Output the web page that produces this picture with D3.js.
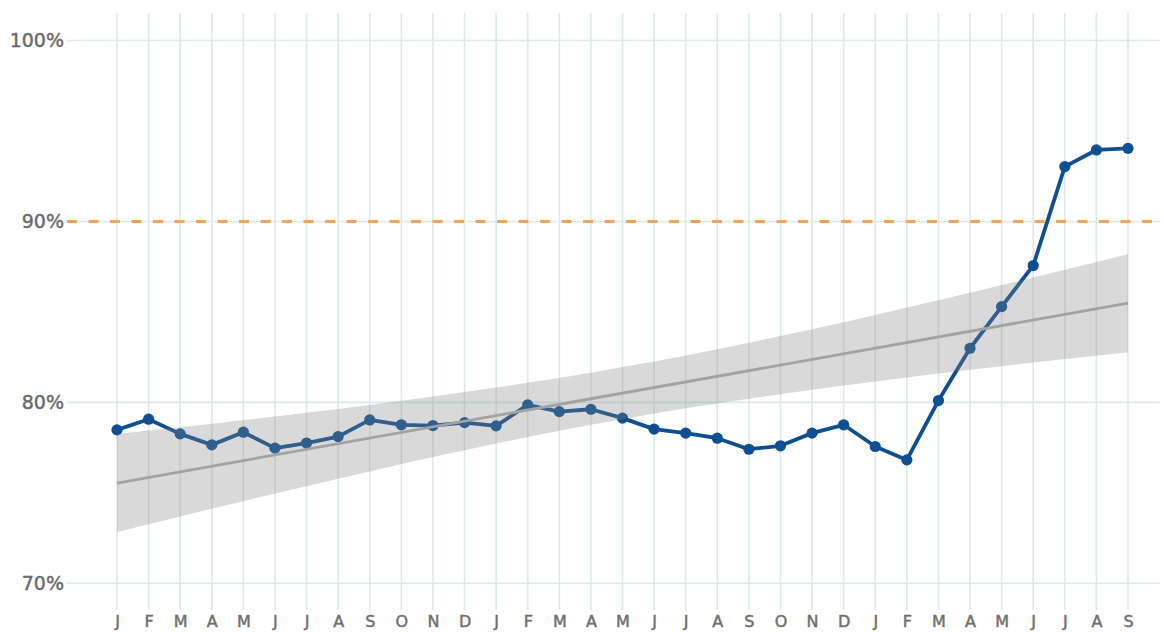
<!DOCTYPE html>
<html>
<head>
<meta charset="utf-8">
<script src="https://cdn.jsdelivr.net/npm/d3@7/dist/d3.min.js"></script>
<style>
  html, body { margin: 0; padding: 0; background: #ffffff; }
  svg { display: block; }
</style>
</head>
<body>
<svg id="chart" width="1164" height="632"></svg>
<script>
// ---- data ----
const months = ["J","F","M","A","M","J","J","A","S","O","N","D",
                "J","F","M","A","M","J","J","A","S","O","N","D",
                "J","F","M","A","M","J","J","A","S"];
const values = [78.48, 79.07, 78.26, 77.65, 78.35, 77.47, 77.75, 78.11, 79.03,
                78.76, 78.72, 78.88, 78.70, 79.86, 79.49, 79.62, 79.13, 78.52,
                78.30, 78.02, 77.41, 77.60, 78.30, 78.76, 77.56, 76.82, 80.10,
                82.99, 85.29, 87.56, 93.03, 93.95, 94.04];
const trendStart = 75.54;
const trendEnd = 85.48;
const bandLow  = [72.83, 73.26, 73.69, 74.12, 74.54, 74.96, 75.37, 75.78, 76.18,
                  76.59, 76.98, 77.35, 77.72, 78.08, 78.43, 78.76, 79.07, 79.38,
                  79.67, 79.94, 80.20, 80.45, 80.70, 80.93, 81.15, 81.38, 81.59,
                  81.80, 82.00, 82.20, 82.39, 82.58, 82.77];
const bandHigh = [78.25, 78.44, 78.63, 78.82, 79.02, 79.22, 79.43, 79.64, 79.86,
                  80.09, 80.32, 80.57, 80.82, 81.08, 81.35, 81.64, 81.95, 82.26,
                  82.59, 82.94, 83.30, 83.67, 84.04, 84.43, 84.83, 85.24, 85.65,
                  86.06, 86.48, 86.90, 87.33, 87.76, 88.19];
const target = 90;
const yTicks = [70, 80, 90, 100];

// ---- layout ----
const svg = d3.select("#chart");
const idx = d3.range(months.length);
const x = d3.scaleLinear().domain([0, months.length - 1]).range([117, 1128]);
const y = d3.scaleLinear().domain([70, 100]).range([583.3, 40.5]);

const gridColor = "#dcebe6";

// vertical gridlines
svg.append("g").selectAll("line").data(idx).join("line")
  .attr("x1", d => x(d)).attr("x2", d => x(d))
  .attr("y1", 13).attr("y2", 610)
  .attr("stroke", gridColor).attr("stroke-width", 1.6);

// horizontal gridlines
svg.append("g").selectAll("line").data(yTicks).join("line")
  .attr("x1", 67).attr("x2", 1160)
  .attr("y1", d => y(d)).attr("y2", d => y(d))
  .attr("stroke", gridColor).attr("stroke-width", 1.6);

// y axis labels
const yAxis = d3.axisLeft(y).tickValues(yTicks).tickFormat(d => d + "%").tickSize(0).tickPadding(0);
const yg = svg.append("g").attr("transform", "translate(64,0)").call(yAxis);
yg.select(".domain").remove();
yg.selectAll("text")
  .attr("font-family", "'DejaVu Sans', Verdana, sans-serif")
  .attr("font-size", 19)
  .attr("fill", "#6a6a6a")
  .attr("stroke", "#6a6a6a")
  .attr("stroke-width", 0.45);

// x axis labels
const xAxis = d3.axisBottom(x).tickValues(idx).tickFormat(i => months[i]).tickSize(0).tickPadding(0);
const xg = svg.append("g").attr("transform", "translate(0,616)").call(xAxis);
xg.select(".domain").remove();
xg.selectAll("text")
  .attr("font-family", "'DejaVu Sans', Verdana, sans-serif")
  .attr("font-size", 16)
  .attr("fill", "#6e6e6e")
  .attr("stroke", "#6e6e6e")
  .attr("stroke-width", 0.45);

// target dashed line
svg.append("line")
  .attr("x1", 67).attr("x2", 1160)
  .attr("y1", y(target)).attr("y2", y(target))
  .attr("stroke", "#f3a35c").attr("stroke-width", 3)
  .attr("stroke-dasharray", "10,11.5");

// main line
const line = d3.line().x((d, i) => x(i)).y(d => y(d));
svg.append("path").datum(values)
  .attr("d", line)
  .attr("fill", "none")
  .attr("stroke", "#0e4f93")
  .attr("stroke-width", 3.8)
  .attr("stroke-linejoin", "round");

svg.append("g").selectAll("circle").data(values).join("circle")
  .attr("cx", (d, i) => x(i)).attr("cy", d => y(d))
  .attr("r", 5.6)
  .attr("fill", "#0e4f93");

// confidence band (drawn over the line, semi-transparent)
const area = d3.area().x(i => x(i)).y0(i => y(bandLow[i])).y1(i => y(bandHigh[i]));
svg.append("path").datum(idx)
  .attr("d", area)
  .attr("fill", "#808080")
  .attr("fill-opacity", 0.3);

// trend line
svg.append("line")
  .attr("x1", x(0)).attr("x2", x(months.length - 1))
  .attr("y1", y(trendStart)).attr("y2", y(trendEnd))
  .attr("stroke", "#a2a2a2").attr("stroke-width", 2.8);
</script>
</body>
</html>
